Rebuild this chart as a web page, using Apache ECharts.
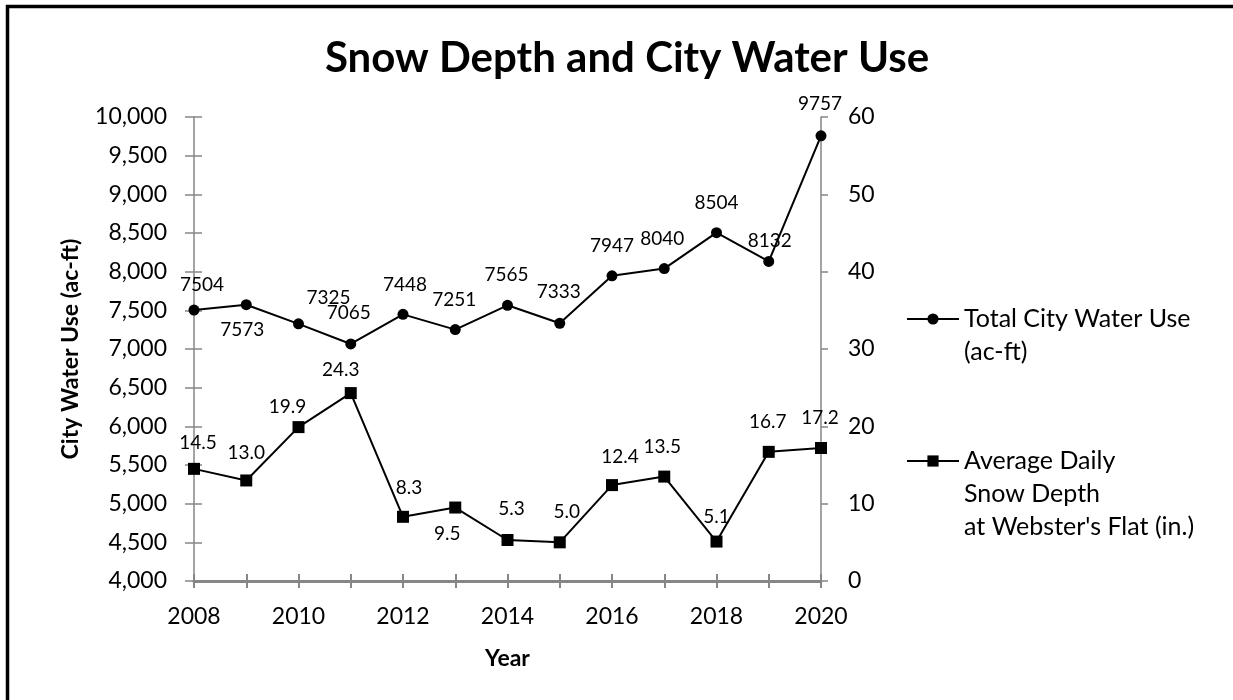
<!DOCTYPE html>
<html>
<head>
<meta charset="utf-8">
<script src="https://cdn.jsdelivr.net/npm/echarts@6/dist/echarts.min.js"></script>
<style>
  html, body { margin: 0; padding: 0; background: #ffffff; }
  #chart { width: 1233px; height: 700px; }
</style>
</head>
<body>
<div id="chart"></div>
<script>
// Years on the horizontal axis
const years = ['2008', '2009', '2010', '2011', '2012', '2013', '2014',
               '2015', '2016', '2017', '2018', '2019', '2020'];

// Total city water use, acre-feet (left axis)
const waterUse = [7504, 7573, 7325, 7065, 7448, 7251, 7565,
                  7333, 7947, 8040, 8504, 8132, 9757];

// Average daily snow depth at Webster's Flat, inches (right axis)
const snowDepth = [14.5, 13.0, 19.9, 24.3, 8.3, 9.5, 5.3,
                   5.0, 12.4, 13.5, 5.1, 16.7, 17.2];

// Series names as shown in the legend
const waterName = 'Total City Water Use\n(ac-ft)';
const snowName = "Average Daily\nSnow Depth\nat Webster's Flat (in.)";

// Data label nudges [dx, dy] from each marker centre
const waterLabelOffset = [[8, -25], [-4, 25], [30, -26], [-2, -31], [2, -29], [-1, -30], [-1, -30],
                          [-1, -31], [0, -30], [-2, -30], [0, -30], [1, -21], [-1, -32]];
const snowLabelOffset = [[4, -26], [0, -28], [-11, -20], [-10, -23], [6, -29], [-8, 26], [4, -31],
                         [7, -30], [8, -28], [-2, -30], [0, -25], [-1, -30], [-1, -30]];

const FONT = 'Lato, "Open Sans", sans-serif';
const AXIS_GREY = '#868686';
const LEGEND_LINE = 33;

const chart = echarts.init(document.getElementById('chart'), null, { renderer: 'canvas' });

function labelled(values, offsets, fmt) {
  return values.map((v, i) => ({
    value: v,
    label: { offset: offsets[i], formatter: fmt(v) }
  }));
}

// Legend entry whose marker lines up with the first text line
function legendFor(name, iconCentreY) {
  const lines = name.split('\n').length;
  const padded = '\n'.repeat(lines - 1) + name;
  const blockHeight = (2 * lines - 1) * LEGEND_LINE;
  return {
    orient: 'vertical',
    left: 906,
    top: iconCentreY - blockHeight / 2,
    padding: 0,
    itemWidth: 52,
    itemHeight: 14,
    selectedMode: false,
    data: [name],
    formatter: () => padded,
    textStyle: { fontFamily: FONT, fontSize: 25, color: '#000', lineHeight: LEGEND_LINE }
  };
}

const option = {
  backgroundColor: '#ffffff',
  animation: false,
  title: {
    text: 'Snow Depth and City Water Use',
    left: 622,
    textAlign: 'center',
    top: 32,
    textStyle: { fontFamily: FONT, fontWeight: 'bold', fontSize: 42, color: '#000' }
  },
  grid: { left: 194, right: 412, top: 117, bottom: 119, containLabel: false },
  legend: [
    legendFor(waterName, 319),
    legendFor(snowName, 461)
  ],
  xAxis: [
    {
      type: 'category',
      data: years,
      boundaryGap: false,
      name: 'Year',
      nameLocation: 'middle',
      nameGap: 66,
      nameTextStyle: { fontFamily: FONT, fontWeight: 'bold', fontSize: 23, color: '#000' },
      axisLine: { show: true, onZero: false, lineStyle: { color: AXIS_GREY, width: 3 } },
      axisTick: { show: true, inside: false, length: 7, interval: 0, lineStyle: { color: AXIS_GREY, width: 2 } },
      axisLabel: { interval: 1, margin: 24, fontFamily: FONT, fontSize: 23, color: '#000' },
      splitLine: { show: false }
    },
    {
      // inner half of the crossing ticks
      type: 'category',
      data: years,
      boundaryGap: false,
      position: 'bottom',
      axisLine: { show: false },
      axisTick: { show: true, inside: true, length: 7, interval: 0, lineStyle: { color: AXIS_GREY, width: 2 } },
      axisLabel: { show: false },
      splitLine: { show: false }
    }
  ],
  yAxis: [
    {
      type: 'value',
      min: 4000,
      max: 10000,
      interval: 500,
      position: 'left',
      name: 'City Water Use (ac-ft)',
      nameLocation: 'middle',
      nameRotate: 90,
      nameGap: 112,
      nameTextStyle: { fontFamily: FONT, fontWeight: 'bold', fontSize: 23, color: '#000' },
      axisLine: { show: true, onZero: false, lineStyle: { color: AXIS_GREY, width: 1.5 } },
      axisTick: { show: true, inside: false, length: 9, lineStyle: { color: AXIS_GREY, width: 1.5 } },
      axisLabel: {
        margin: 27, fontFamily: FONT, fontSize: 23, color: '#000',
        formatter: v => v.toLocaleString('en-US')
      },
      splitLine: { show: false }
    },
    {
      type: 'value',
      min: 0,
      max: 60,
      interval: 10,
      position: 'right',
      axisLine: { show: true, onZero: false, lineStyle: { color: AXIS_GREY, width: 1.5 } },
      axisTick: { show: true, inside: false, length: 7, lineStyle: { color: AXIS_GREY, width: 1.5 } },
      axisLabel: { margin: 27, fontFamily: FONT, fontSize: 23, color: '#000' },
      splitLine: { show: false }
    },
    {
      // inner half of the crossing ticks on the left axis
      type: 'value',
      min: 4000,
      max: 10000,
      interval: 500,
      position: 'left',
      axisLine: { show: false },
      axisTick: { show: true, inside: true, length: 8, lineStyle: { color: AXIS_GREY, width: 1.5 } },
      axisLabel: { show: false },
      splitLine: { show: false }
    }
  ],
  series: [
    {
      name: waterName,
      type: 'line',
      xAxisIndex: 0,
      yAxisIndex: 0,
      data: labelled(waterUse, waterLabelOffset, v => String(v)),
      symbol: 'circle',
      symbolSize: 11,
      lineStyle: { color: '#000', width: 2 },
      itemStyle: { color: '#000' },
      label: { show: true, position: 'inside', fontFamily: FONT, fontSize: 19, color: '#000' },
      z: 3
    },
    {
      name: snowName,
      type: 'line',
      xAxisIndex: 0,
      yAxisIndex: 1,
      data: labelled(snowDepth, snowLabelOffset, v => v.toFixed(1)),
      symbol: 'rect',
      symbolSize: 12,
      lineStyle: { color: '#000', width: 2 },
      itemStyle: { color: '#000' },
      label: { show: true, position: 'inside', fontFamily: FONT, fontSize: 19, color: '#000' },
      z: 3
    }
  ],
  graphic: [
    {
      // frame around the chart area
      type: 'rect',
      shape: { x: 7.5, y: 6.5, width: 1400, height: 900 },
      style: { fill: null, stroke: '#000', lineWidth: 3.5 },
      silent: true,
      z: 10
    }
  ]
};

chart.setOption(option);
</script>
</body>
</html>
